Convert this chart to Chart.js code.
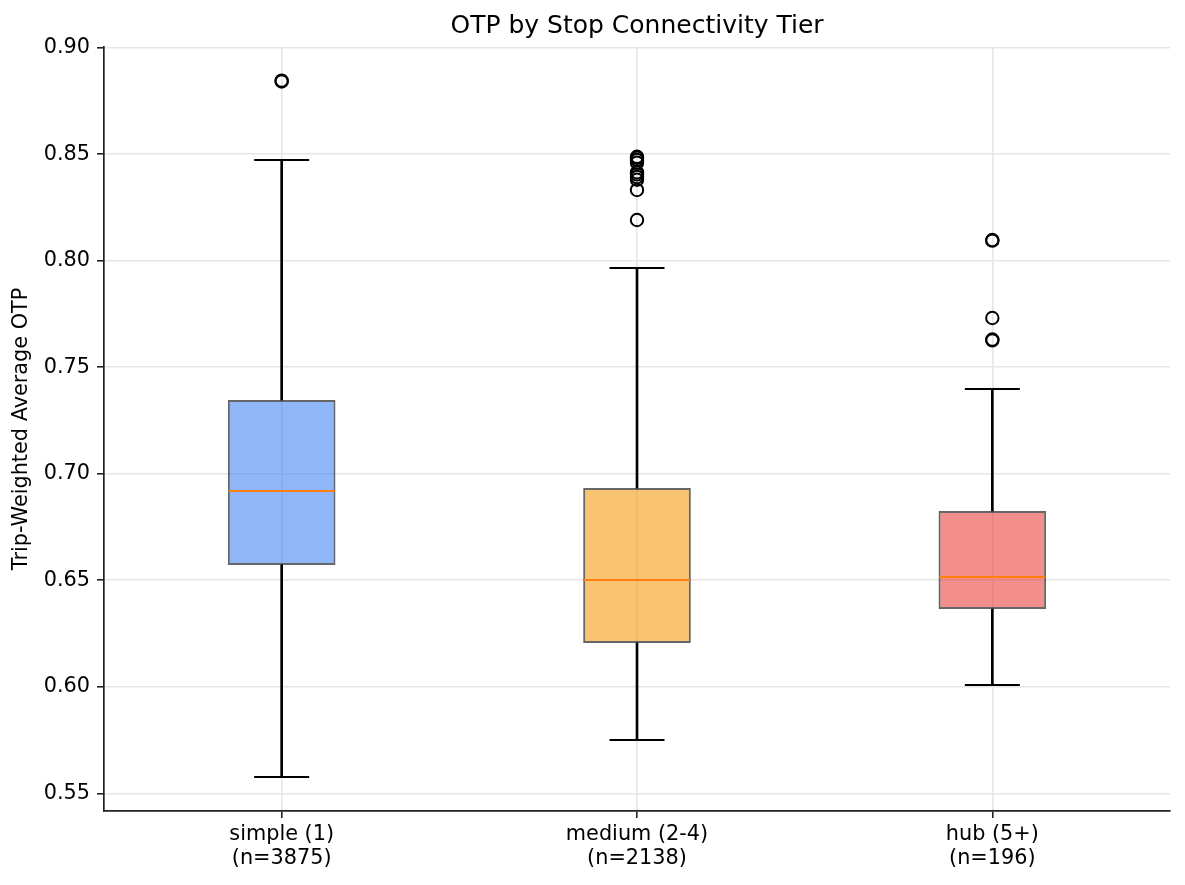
<!DOCTYPE html>
<html>
<head>
<meta charset="utf-8">
<script src="https://cdn.jsdelivr.net/npm/chart.js@4.4.1/dist/chart.umd.min.js"></script>
<style>
  html, body { margin: 0; padding: 0; background: #ffffff; }
  #wrap { width: 1185px; height: 885px; }
</style>
</head>
<body>
<div id="wrap"><canvas id="c" width="1185" height="885"></canvas></div>
<script>
// ---- data ----
const categories = ["simple (1)", "medium (2-4)", "hub (5+)"];
const counts     = [3875, 2138, 196];
const whiskerLow  = [0.5577, 0.5750, 0.6008];
const q1          = [0.6572, 0.6206, 0.6365];
const median      = [0.6919, 0.6501, 0.6515];
const q3          = [0.7346, 0.6933, 0.6825];
const whiskerHigh = [0.8473, 0.7966, 0.7398];
const outliersSimple = [0.8845, 0.8841];
const outliersMedium = [0.8488, 0.8483, 0.8473, 0.8460, 0.8415, 0.8405, 0.8393, 0.8380, 0.8332, 0.8191];
const outliersHub    = [0.8097, 0.8094, 0.7731, 0.7630, 0.7626];
const yTicks = [0.55, 0.60, 0.65, 0.70, 0.75, 0.80, 0.85, 0.90];
const yMin = 0.5417, yMax = 0.9003;

// ---- styles ----
const boxColors = ["rgba(66,133,244,0.6)", "rgba(243,156,18,0.6)", "rgba(234,67,62,0.6)"];
const FONT = "'DejaVu Sans', 'Liberation Sans', sans-serif";
Chart.defaults.font.family = FONT;
Chart.defaults.color = "#000000";

const allOutliers = [outliersSimple, outliersMedium, outliersHub];
const outlierPoints = [];
allOutliers.forEach((arr, i) => arr.forEach(v => outlierPoints.push({x: categories[i], y: v})));
const capPoints = [];
categories.forEach((c, i) => { capPoints.push({x: c, y: whiskerLow[i]}); capPoints.push({x: c, y: whiskerHigh[i]}); });
const medianPoints = median.map((v, i) => ({x: categories[i], y: v}));

const gridColor = "#e6e6e6";

new Chart(document.getElementById("c"), {
  type: "bar",
  data: {
    labels: categories,
    datasets: [
      {
        type: "line", label: "outliers", data: outlierPoints, showLine: false,
        pointStyle: "circle", pointRadius: 6.2, pointBorderWidth: 2,
        pointBorderColor: "#000000", pointBackgroundColor: "rgba(0,0,0,0)", order: 0
      },
      {
        type: "line", label: "median", data: medianPoints, showLine: false,
        pointStyle: "line", pointRadius: 53, pointBorderWidth: 2.1,
        pointBorderColor: "#ff7f0e", order: 1
      },
      {
        type: "bar", label: "box", data: q1.map((v, i) => [v, q3[i]]),
        backgroundColor: boxColors, borderColor: "rgba(0,0,0,0.6)", borderWidth: 2,
        borderSkipped: false, grouped: false, barPercentage: 0.303, categoryPercentage: 1.0, order: 2
      },
      {
        type: "line", label: "caps", data: capPoints, showLine: false,
        pointStyle: "line", pointRadius: 27.5, pointBorderWidth: 2,
        pointBorderColor: "#000000", order: 3
      },
      {
        type: "bar", label: "whiskerLow", data: whiskerLow.map((v, i) => [v, q1[i]]),
        backgroundColor: "#000000", borderWidth: 0, barThickness: 2, grouped: false, order: 4
      },
      {
        type: "bar", label: "whiskerHigh", data: whiskerHigh.map((v, i) => [q3[i], v]),
        backgroundColor: "#000000", borderWidth: 0, barThickness: 2, grouped: false, order: 4
      }
    ]
  },
  options: {
    responsive: false,
    animation: false,
    devicePixelRatio: 1,
    events: [],
    layout: { autoPadding: false, padding: { left: 0, right: 15, top: 0, bottom: 0 } },
    plugins: {
      legend: { display: false },
      tooltip: { enabled: false },
      title: {
        display: true, fullSize: false, text: "OTP by Stop Connectivity Tier", color: "#000000",
        font: { family: FONT, size: 25, weight: "normal", lineHeight: 1.2 },
        padding: { top: 11, bottom: 6 }
      }
    },
    scales: {
      x: {
        type: "category",
        offset: true,
        grid: { offset: false, color: gridColor, lineWidth: 1.6, tickColor: "#222222", tickWidth: 1.6, tickLength: 7, drawOnChartArea: true },
        border: { display: true, color: "#222222", width: 1.7 },
        ticks: {
          font: { family: FONT, size: 20.8, lineHeight: 1.15 }, color: "#000000", padding: 5,
          maxRotation: 0, autoSkip: false,
          callback: (v, i) => [categories[i], "(n=" + counts[i] + ")"]
        },
        afterFit: (s) => { s.height = 74; }
      },
      y: {
        type: "linear",
        min: yMin, max: yMax,
        grid: { color: gridColor, lineWidth: 1.6, tickColor: "#222222", tickWidth: 1.6, tickLength: 7 },
        border: { display: true, color: "#222222", width: 1.7 },
        ticks: { font: { family: FONT, size: 20.8 }, color: "#000000", padding: 7, callback: (v) => Number(v).toFixed(2) },
        afterBuildTicks: (s) => { s.ticks = yTicks.map(v => ({ value: v })); },
        title: {
          display: true, text: "Trip-Weighted Average OTP", color: "#000000",
          font: { family: FONT, size: 20.8, lineHeight: 1.2 }, padding: { top: 9.5, bottom: 0 }
        },
        afterFit: (s) => { s.width = 104; }
      }
    }
  }
});
</script>
</body>
</html>
